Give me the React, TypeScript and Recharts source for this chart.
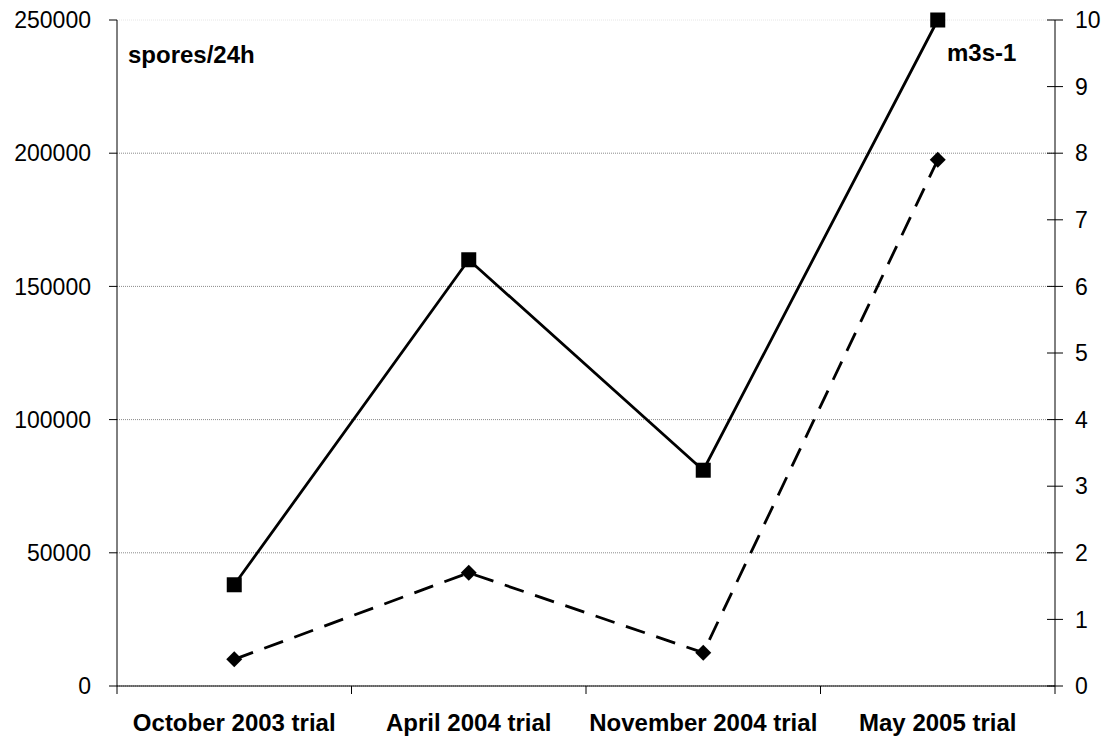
import { ComposedChart, Line, XAxis, YAxis, CartesianGrid } from 'recharts'

// values
const trials = ['October 2003 trial', 'April 2004 trial', 'November 2004 trial', 'May 2005 trial']
const spores = [38000, 160000, 81000, 250000]
const flow = [0.4, 1.7, 0.5, 7.9]
const sporeTicks = [0, 50000, 100000, 150000, 200000, 250000]
const flowTicks = [0, 1, 2, 3, 4, 5, 6, 7, 8, 9, 10]

const data = trials.map((trial, i) => ({ trial, spores: spores[i], flow: flow[i] }))

const W = 1107
const H = 740
const MARGIN = { top: 20, right: 0, bottom: 0, left: 0 }
const LEFT_W = 117
const RIGHT_W = 52
const XAXIS_H = 54
const LEFT_X = MARGIN.left + LEFT_W
const RIGHT_X = W - MARGIN.right - RIGHT_W
const BOTTOM_Y = H - MARGIN.bottom - XAXIS_H
const FONT = '"Liberation Sans", Arial, sans-serif'

const SquareDot = (props: any) => {
    const { cx, cy, index } = props
    return <rect key={'sq' + index} x={cx - 7.5} y={cy - 7.5} width={15} height={15} fill="#000" />
}

const DiamondDot = (props: any) => {
    const { cx, cy, index } = props
    const r = 8
    return (
        <polygon
            key={'dm' + index}
            points={`${cx},${cy - r} ${cx + r},${cy} ${cx},${cy + r} ${cx - r},${cy}`}
            fill="#000"
        />
    )
}

const CategoryTick = (props: any) => {
    const { x, payload, index } = props
    const half = (RIGHT_X - LEFT_X) / trials.length / 2
    return (
        <g>
            <line x1={x - half} x2={x - half} y1={BOTTOM_Y} y2={BOTTOM_Y + 8} stroke="#000" />
            {index === trials.length - 1 && (
                <line x1={x + half} x2={x + half} y1={BOTTOM_Y} y2={BOTTOM_Y + 8} stroke="#000" />
            )}
            <text x={x} y={BOTTOM_Y + 45} textAnchor="middle" fontSize={24} fontWeight="bold" fontFamily={FONT} fill="#000">
                {payload.value}
            </text>
        </g>
    )
}

const RightTick = (props: any) => {
    const { y, payload } = props
    return (
        <g>
            <line x1={RIGHT_X - 8} x2={RIGHT_X + 8} y1={y} y2={y} stroke="#000" />
            <text x={RIGHT_X + 20} y={y} dy="0.355em" textAnchor="start" fontSize={23} fontFamily={FONT} fill="#000">
                {payload.value}
            </text>
        </g>
    )
}

const GridLine = (props: any) => {
    const { x1, x2, y1, y2, index } = props
    return (
        <line
            key={'g' + index}
            x1={x1}
            x2={x2}
            y1={y1}
            y2={y2}
            stroke={y1 < MARGIN.top + 3 ? '#e6e6e6' : '#8a8a8a'}
            strokeDasharray="1 1"
        />
    )
}

const labelStyle = {
    position: 'absolute' as const,
    fontFamily: FONT,
    fontSize: 24,
    fontWeight: 'bold' as const,
    lineHeight: 1,
    color: '#000',
}

export default function App() {
    return (
        <div style={{ position: 'absolute', left: 0, top: 0, width: W, height: H, background: '#fff' }}>
            <ComposedChart width={W} height={H} data={data} margin={MARGIN}>
                <CartesianGrid vertical={false} yAxisId="left" horizontal={GridLine} />
                <XAxis
                    dataKey="trial"
                    scale="band"
                    height={XAXIS_H}
                    axisLine={{ stroke: '#000' }}
                    tickLine={false}
                    tick={CategoryTick}
                    interval={0}
                />
                <YAxis
                    yAxisId="left"
                    width={LEFT_W}
                    domain={[0, 250000]}
                    ticks={sporeTicks}
                    interval={0}
                    axisLine={{ stroke: '#000' }}
                    tickLine={{ stroke: '#000' }}
                    tickSize={8}
                    tickMargin={18}
                    tick={{ fontSize: 23, fill: '#000', fontFamily: FONT }}
                />
                <YAxis
                    yAxisId="right"
                    orientation="right"
                    width={RIGHT_W}
                    domain={[0, 10]}
                    ticks={flowTicks}
                    interval={0}
                    axisLine={{ stroke: '#000' }}
                    tickLine={false}
                    tick={RightTick}
                />
                <Line
                    yAxisId="left"
                    dataKey="spores"
                    stroke="#000"
                    strokeWidth={2.8}
                    dot={SquareDot}
                    activeDot={false}
                    isAnimationActive={false}
                />
                <Line
                    yAxisId="right"
                    dataKey="flow"
                    stroke="#000"
                    strokeWidth={2.8}
                    strokeDasharray="20 12"
                    dot={DiamondDot}
                    activeDot={false}
                    isAnimationActive={false}
                />
            </ComposedChart>
            <div style={{ ...labelStyle, left: 128, top: 43 }}>spores/24h</div>
            <div style={{ ...labelStyle, left: 947, top: 41 }}>m3s-1</div>
        </div>
    )
}
